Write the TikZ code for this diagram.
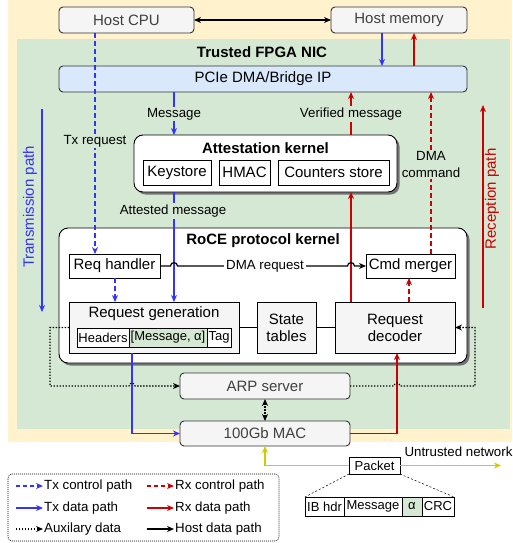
\documentclass[tikz,border=0pt]{standalone}
\usepackage{fontspec}
\setmainfont{Liberation Sans}
\usetikzlibrary{arrows.meta,calc,shadows}
\definecolor{beige}{HTML}{FFF2CC}
\definecolor{nicgreen}{HTML}{D5E8D4}
\definecolor{pcieblue}{HTML}{DAE8FC}
\definecolor{lgray}{HTML}{F5F5F5}
\definecolor{txblue}{HTML}{3333FF}
\definecolor{rxred}{HTML}{CC0000}
\definecolor{netyellow}{HTML}{CCCC00}
\definecolor{dgray}{HTML}{333333}
\definecolor{dtext}{HTML}{404040}
\tikzset{
 fbig/.style={font=\fontsize{15}{17}\selectfont},
 fsmall/.style={font=\fontsize{13.3}{17}\selectfont},
 fsub/.style={font=\fontsize{13}{15}\selectfont},
 ftitle/.style={font=\bfseries\fontsize{15}{17}\selectfont},
 box/.style={draw=black, line width=0.9pt, inner sep=0pt, outer sep=0pt, align=center, fbig},
 whitebox/.style={box, fill=white},
 lgbox/.style={box, fill=lgray},
 hostbox/.style={box, draw=dgray, fill=lgray, text=dtext, rounded corners=4pt},
 kernel/.style={box, fill=white, rounded corners=9pt, drop shadow={shadow xshift=2.5pt, shadow yshift=-2.5pt, fill=black!55, opacity=1}},
 field/.style={box, fill=white, fsub},
 lbl/.style={fsmall, fill=nicgreen, inner sep=1.5pt},
 arrowhd/.style={-{Stealth[length=7pt,width=6pt,inset=2.2pt]}},
 datapath/.style={line width=1.2pt, arrowhd},
 ctrlpath/.style={datapath, dash pattern=on 5pt off 3pt},
 auxpath/.style={line width=1.2pt, dash pattern=on 1.3pt off 1.7pt},
}
\begin{document}
\begin{tikzpicture}[x=1pt,y=-1pt]
\useasboundingbox (0,0) rectangle (512,543);
% backgrounds
\fill[beige] (8,0) rectangle (512,442);
\fill[nicgreen] (17,39) rectangle (510,429);
\node[ftitle] (nictitle) at (262,52) {Trusted FPGA NIC};

% column coordinates
\coordinate (cTx) at (95,0);
\coordinate (cMsg) at (174,0);
\coordinate (cVer) at (351,0);
\coordinate (cDma) at (431,0);
\coordinate (cHb) at (382,0);
\coordinate (cHr) at (414,0);
\coordinate (cRh) at (115,0);
\coordinate (cCm) at (409,0);
\coordinate (cTxd) at (132,0);
\coordinate (cRxd) at (397,0);
\coordinate (cAuxL) at (50,0);
\coordinate (cAuxR) at (475,0);

% host
\node[hostbox, minimum width=135pt, minimum height=26pt] (hostcpu) at (126.5,20) {Host CPU};
\node[hostbox, minimum width=136pt, minimum height=26pt] (hostmem) at (399,20) {Host memory};
\node[box, fill=pcieblue, draw=dgray, rounded corners=4pt, minimum width=408pt, minimum height=26pt] (pcie) at (263,79) {PCIe DMA/Bridge IP};

% attestation kernel
\node[kernel, minimum width=263pt, minimum height=57pt] (attest) at (265.5,163.5) {};
\node[ftitle] (attestT) at (265.5,148) {Attestation kernel};
\node[whitebox, minimum width=68pt, minimum height=25pt] (keystore) at (177,172.5) {Keystore};
\node[whitebox, minimum width=51pt, minimum height=25pt] (hmac) at (244.5,172.5) {HMAC};
\node[whitebox, minimum width=111pt, minimum height=25pt] (counters) at (333.5,172.5) {Counters store};

% RoCE kernel
\node[kernel, minimum width=408pt, minimum height=135pt] (roce) at (263,295.5) {};
\node[ftitle] (roceT) at (263,241) {RoCE protocol kernel};
\node[whitebox, minimum width=91pt, minimum height=24pt] (reqh) at (114.5,266) {Req handler};
\node[whitebox, minimum width=89pt, minimum height=24pt] (cmdm) at (410.5,266) {Cmd merger};
\node[lgbox, minimum width=170pt, minimum height=51pt] (reqgen) at (154,327.5) {};
\node[fbig] (reqgenT) at (154,313.5) {Request generation};
\node[field, minimum width=52pt, minimum height=19pt] (headers) at (103,337.5) {Headers};
\node[field, fill=nicgreen, minimum width=78pt, minimum height=19pt] (msgalpha) at (168,337.5) {[Message, α]};
\node[field, minimum width=24pt, minimum height=19pt] (tag) at (219,337.5) {Tag};
\node[lgbox, minimum width=59pt, minimum height=51pt] (state) at (286.5,327.5) {State\\tables};
\node[lgbox, minimum width=120pt, minimum height=51pt] (decoder) at (395,327.5) {Request\\decoder};

% ARP and MAC
\node[hostbox, minimum width=170pt, minimum height=26pt] (arp) at (265,386) {ARP server};
\node[hostbox, minimum width=170pt, minimum height=25pt] (mac) at (265,433.5) {100Gb MAC};

% packet
\node[field, fill=white, minimum width=51pt, minimum height=17pt] (packet) at (374.5,465.5) {Packet};
\node[field, minimum width=39pt, minimum height=19pt] (ibhdr) at (324.5,506.5) {IB hdr};
\node[field, minimum width=58pt, minimum height=19pt] (pmsg) at (373,506.5) {Message};
\node[field, fill=nicgreen, minimum width=20pt, minimum height=19pt] (palpha) at (412,506.5) {α};
\node[field, minimum width=32pt, minimum height=19pt] (crc) at (438,506.5) {CRC};

% ---------- connectors ----------
\draw[line width=1.2pt, {Stealth[length=7pt,width=6pt,inset=2.2pt]}-{Stealth[length=7pt,width=6pt,inset=2.2pt]}] (hostcpu.east) -- (hostmem.west);
\draw[datapath, txblue] (hostmem.south -| cHb) -- (pcie.north -| cHb);
\draw[datapath, rxred] (pcie.north -| cHr) -- (hostmem.south -| cHr);

\draw[ctrlpath, txblue] (hostcpu.south -| cTx) -- (reqh.north -| cTx);
\draw[datapath, txblue] (pcie.south -| cMsg) -- (attest.north -| cMsg);
\draw[datapath, rxred] (attest.north -| cVer) -- (pcie.south -| cVer);
\draw[ctrlpath, rxred] (cmdm.north -| cDma) -- (pcie.south -| cDma);
\draw[datapath, txblue] (attest.south -| cMsg) -- (reqgen.north -| cMsg);
\draw[datapath, rxred] (decoder.north -| cVer) -- (attest.south -| cVer);

\draw[datapath, black] (reqh.east) -- ($(reqh.east -| cMsg)+(-3.5,0)$) .. controls +(0,-4.5) and +(0,-4.5) .. +(7,0)
  -- ($(reqh.east -| cVer)+(-3.5,0)$) .. controls +(0,-4.5) and +(0,-4.5) .. +(7,0) -- (cmdm.west);
\draw[ctrlpath, txblue] (reqh.south -| cRh) -- (reqgen.north -| cRh);
\draw[ctrlpath, rxred] (decoder.north -| cCm) -- (cmdm.south -| cCm);
\draw[line width=0.9pt] (reqgen.east) -- (state.west);
\draw[line width=0.9pt] (state.east) -- (decoder.west);

\draw[datapath, txblue] (reqgen.south -| cTxd) -- (cTxd |- mac.west) -- (mac.west);
\draw[datapath, rxred] (mac.east) -- (cRxd |- mac.east) -- (decoder.south -| cRxd);

\draw[auxpath, arrowhd] (reqgen.west) -- (cAuxL |- reqgen.west) -- (cAuxL |- arp.west)
  -- ($(cTxd |- arp.west)+(-3,0)$) .. controls +(0,-4) and +(0,-4) .. +(6,0) -- (arp.west);
\draw[auxpath, arrowhd] (arp.east) -- ($(cRxd |- arp.east)+(-3,0)$) .. controls +(0,-4) and +(0,-4) .. +(6,0)
  -- (cAuxR |- arp.east) -- (cAuxR |- decoder.east) -- (decoder.east);
\draw[auxpath, {Stealth[length=7pt,width=6pt,inset=2.2pt]}-{Stealth[length=7pt,width=6pt,inset=2.2pt]}] (arp.south) -- (mac.north);

% network
\coordinate (netend) at (501,465.5);
\draw[datapath, netyellow] (packet.west) -- (mac.south |- packet.west) -- (mac.south);
\draw[datapath, netyellow] (packet.east) -- (netend);
\node[fsmall, anchor=west] (untr) at (401,452) {Untrusted network};
\draw[line width=0.5pt, dash pattern=on 2pt off 2pt] (packet.south west) -- (ibhdr.north west);
\draw[line width=0.5pt, dash pattern=on 2pt off 2pt] (packet.south east) -- (crc.north east);

% path arrows
\coordinate (txs) at (42,109);
\coordinate (txe) at (42,312);
\draw[datapath, txblue] (txs) -- (txe);
\node[fbig, rotate=90, text=txblue] (txlbl) at (30,207) {Transmission path};
\coordinate (rxs) at (483,308);
\coordinate (rxe) at (483,105);
\draw[datapath, rxred] (rxs) -- (rxe);
\node[fbig, rotate=90, text=rxred] (rxlbl) at (492,199) {Reception path};

% labels
\node[lbl] (txreq) at (95,141) {Tx request};
\node[lbl] (msglbl) at (174,114) {Message};
\node[lbl] (verlbl) at (351,114) {Verified message};
\node[lbl, align=center] (dmacmd) at (431,164.5) {DMA\\command};
\node[lbl] (attlbl) at (173,211) {Attested message};
\node[fsmall, fill=white, inner sep=2pt] (dmareq) at (265,266) {DMA request};

% legend
\node[draw, dash pattern=on 1pt off 1pt, line width=0.6pt, rounded corners=4pt, minimum width=271pt, minimum height=67pt, inner sep=0pt] (legend) at (143.5,507.5) {};
\coordinate (l1a) at (16,486); \coordinate (l1b) at (43,486);
\coordinate (l2a) at (16,508); \coordinate (l2b) at (43,508);
\coordinate (l3a) at (16,529); \coordinate (l3b) at (43,529);
\coordinate (r1a) at (147,486); \coordinate (r1b) at (174,486);
\coordinate (r2a) at (147,508); \coordinate (r2b) at (174,508);
\coordinate (r3a) at (147,529); \coordinate (r3b) at (174,529);
\draw[ctrlpath, txblue, dash pattern=on 4pt off 3pt] (l1a) -- (l1b);
\draw[datapath, txblue] (l2a) -- (l2b);
\draw[auxpath, arrowhd] (l3a) -- (l3b);
\draw[ctrlpath, rxred, dash pattern=on 4pt off 3pt] (r1a) -- (r1b);
\draw[datapath, rxred] (r2a) -- (r2b);
\draw[datapath, black] (r3a) -- (r3b);
\node[fsmall, anchor=west, inner sep=1pt] (t1) at (l1b) {Tx control path};
\node[fsmall, anchor=west, inner sep=1pt] (t2) at (l2b) {Tx data path};
\node[fsmall, anchor=west, inner sep=1pt] (t3) at (l3b) {Auxilary data};
\node[fsmall, anchor=west, inner sep=1pt] (t4) at (r1b) {Rx control path};
\node[fsmall, anchor=west, inner sep=1pt] (t5) at (r2b) {Rx data path};
\node[fsmall, anchor=west, inner sep=1pt] (t6) at (r3b) {Host data path};
\end{tikzpicture}
\end{document}
